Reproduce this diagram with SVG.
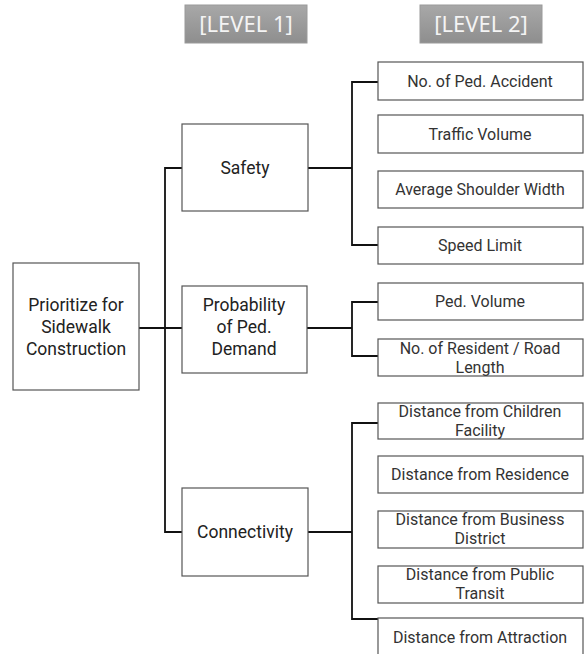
<svg xmlns="http://www.w3.org/2000/svg" width="584" height="654" viewBox="0 0 584 654">
<defs>
<linearGradient id="hg" x1="0" y1="0" x2="0" y2="1">
<stop offset="0" stop-color="#a8a8a8"/>
<stop offset="1" stop-color="#8e8e8e"/>
</linearGradient>
</defs>
<style>
.hdr{fill:url(#hg);stroke:#9a9a9a;stroke-width:1}
.htx{font-family:"Noto Sans","Open Sans",sans-serif;font-size:22px;fill:#f4f4f4;text-anchor:middle}
.box{fill:#fff;stroke:#555;stroke-width:1.2}
.t1{font-family:Roboto,"Noto Sans",sans-serif;font-size:17.5px;fill:#222;text-anchor:middle}
.t2{font-family:Roboto,"Noto Sans",sans-serif;font-size:16px;fill:#333;text-anchor:middle}
.ln{fill:none;stroke:#111;stroke-width:1.8}
</style>
<rect width="584" height="654" fill="#fff"/>
<g id="level1-header"><rect class="hdr" x="185" y="5" width="122" height="38"/><text class="htx" x="246" y="32">[LEVEL 1]</text></g>
<g id="level2-header"><rect class="hdr" x="420" y="5" width="122" height="38"/><text class="htx" x="481" y="32">[LEVEL 2]</text></g>
<g id="connectors">
<path class="ln" d="M139 328H182"/>
<path class="ln" d="M182 168H165V532H182"/>
<path class="ln" d="M308 168H352"/>
<path class="ln" d="M378 82H352V245H378"/>
<path class="ln" d="M307 328H352"/>
<path class="ln" d="M378 302H352V356H378"/>
<path class="ln" d="M308 532H352"/>
<path class="ln" d="M378 423H352V619H378"/>
</g>
<g id="root"><rect class="box" x="13" y="263" width="126" height="127"/>
<text class="t1" x="76" y="311">Prioritize for</text><text class="t1" x="76" y="333">Sidewalk</text><text class="t1" x="76" y="355">Construction</text></g>
<g id="safety"><rect class="box" x="182" y="124" width="126" height="87"/><text class="t1" x="245" y="174">Safety</text></g>
<g id="probability"><rect class="box" x="182" y="286" width="125" height="87"/>
<text class="t1" x="244" y="311">Probability</text><text class="t1" x="244" y="333">of Ped.</text><text class="t1" x="244" y="355">Demand</text></g>
<g id="connectivity"><rect class="box" x="182" y="488" width="126" height="88"/><text class="t1" x="245" y="538">Connectivity</text></g>
<g id="s1"><rect class="box" x="378" y="62" width="205" height="38"/><text class="t2" x="480" y="87">No. of Ped. Accident</text></g>
<g id="s2"><rect class="box" x="378" y="115" width="205" height="38"/><text class="t2" x="480" y="140">Traffic Volume</text></g>
<g id="s3"><rect class="box" x="378" y="171" width="205" height="37"/><text class="t2" x="480" y="195">Average Shoulder Width</text></g>
<g id="s4"><rect class="box" x="378" y="227" width="205" height="37"/><text class="t2" x="480" y="251">Speed Limit</text></g>
<g id="p1"><rect class="box" x="378" y="283" width="205" height="37"/><text class="t2" x="480" y="307">Ped. Volume</text></g>
<g id="p2"><rect class="box" x="378" y="339" width="205" height="37"/><text class="t2" x="480" y="354">No. of Resident / Road</text><text class="t2" x="480" y="373">Length</text></g>
<g id="c1"><rect class="box" x="378" y="403" width="205" height="36"/><text class="t2" x="480" y="417">Distance from Children</text><text class="t2" x="480" y="436">Facility</text></g>
<g id="c2"><rect class="box" x="378" y="456" width="205" height="37"/><text class="t2" x="480" y="480">Distance from Residence</text></g>
<g id="c3"><rect class="box" x="378" y="511" width="205" height="37"/><text class="t2" x="480" y="525">Distance from Business</text><text class="t2" x="480" y="544">District</text></g>
<g id="c4"><rect class="box" x="378" y="566" width="205" height="37"/><text class="t2" x="480" y="580">Distance from Public</text><text class="t2" x="480" y="599">Transit</text></g>
<g id="c5"><rect class="box" x="378" y="618" width="205" height="40"/><text class="t2" x="480" y="643">Distance from Attraction</text></g>
</svg>
